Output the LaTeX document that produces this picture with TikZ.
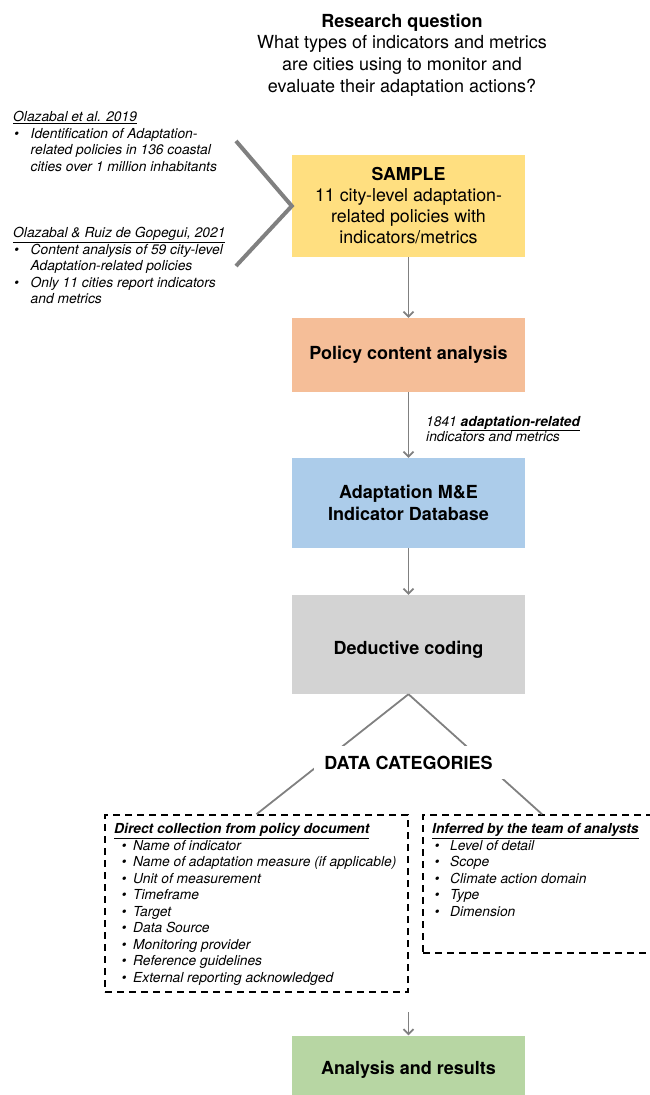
\documentclass[tikz,border=0pt]{standalone}
\usepackage{fontspec}
\setmainfont{TeX Gyre Heros}
\usetikzlibrary{arrows.meta}
\definecolor{cyellow}{HTML}{FFDF80}
\definecolor{csalmon}{HTML}{F5BE98}
\definecolor{cblue}{HTML}{ACCCEA}
\definecolor{cgrey}{HTML}{D3D3D3}
\definecolor{cgreen}{HTML}{B7D6A3}
\definecolor{cline}{HTML}{808080}
\newcommand{\fs}[2]{\fontsize{#1}{#2}\selectfont}
\newcommand{\B}[2]{\makebox[#2][l]{\hspace*{#1}\textbullet}}
\newcommand{\dn}[2]{\raisebox{-#1}[\height][\depth]{#2}}
\begin{document}
\begin{tikzpicture}[x=1pt,y=-1pt,
  box/.style={rectangle, inner sep=0pt, minimum width=233pt, align=center, font=\fs{18}{22.5}\bfseries},
  flow/.style={draw=cline, line width=1.8pt, -{Straight Barb[length=5pt,width=10pt,line width=1.8pt]}},
  tree/.style={draw=cline, line width=1.8pt},
  dbox/.style={rectangle, draw=black, line width=1.6pt, dash pattern=on 7pt off 5pt, inner sep=0pt},
  txt/.style={anchor=north west, inner sep=0pt, font=\fs{13.8}{16.5}\itshape}]
\useasboundingbox (0,0) rectangle (649,1095);

% title
\node[anchor=north, inner sep=0pt, font=\fs{18}{21.7}] (title) at (402,11.8)
  {\begin{tabular}{@{}c@{}}\textbf{Research question}\\What types of indicators and metrics\\are cities using to monitor and\\evaluate their adaptation actions?\end{tabular}};

% boxes
\node[box, fill=cyellow, minimum height=102pt, font=\fs{17.8}{21}] (sample) at (408.5,206)
  {\textbf{SAMPLE}\\11 city-level adaptation-\\related policies with\\indicators/metrics};
\node[box, fill=csalmon, minimum height=74pt] (policy) at (408.5,355) {Policy content analysis};
\node[box, fill=cblue, minimum height=90pt] (adb) at (408.5,503) {Adaptation M\&E\\Indicator Database};
\node[box, fill=cgrey, minimum height=99pt] (dc) at (408.5,644.5) {\dn{5pt}{Deductive coding}};
\node[box, fill=cgreen, minimum height=60pt] (res) at (408.5,1065.5) {\dn{4pt}{Analysis and results}};

% references on the left
\node[txt] (ref1) at (13,110)
  {\begin{tabular}{@{}l@{}}\underline{Olazabal et al. 2019}\\
   \B{1pt}{17.5pt}Identification of Adaptation-\\
   \hspace*{17.5pt}related policies in 136 coastal\\
   \hspace*{17.5pt}cities over 1 million inhabitants\end{tabular}};
\node[txt] (ref2) at (13,226)
  {\begin{tabular}{@{}l@{}}\underline{Olazabal \& Ruiz de Gopegui, 2021}\\
   \B{1pt}{17.5pt}Content analysis of 59 city-level\\
   \hspace*{17.5pt}Adaptation-related policies\\
   \B{1pt}{17.5pt}Only 11 cities report indicators\\
   \hspace*{17.5pt}and metrics\end{tabular}};

% chevron
\coordinate (ch1) at (236,141);
\coordinate (ch3) at (236,266);
\draw[draw=cline, line width=4pt] (ch1) -- (sample.west) -- (ch3);

% arrows
\draw[flow] (sample.south) -- (policy.north);
\draw[flow] (policy.south) -- (adb.north);
\draw[flow] (adb.south) -- (dc.north);

\node[txt, font=\fs{13.8}{15.5}\itshape] (lbl) at (426,415)
  {\begin{tabular}{@{}l@{}}1841 \underline{\textbf{adaptation-related}}\\indicators and metrics\end{tabular}};

% dashed boxes
\node[dbox, minimum width=303pt, minimum height=177pt] (dleft) at (256.5,903.5) {};
\node[dbox, minimum width=238pt, minimum height=138pt] (dright) at (542,884) {};

\draw[tree] (dc.south) -- (dleft.north);
\draw[tree] (dc.south) -- (dright.north);
\node[fill=white, inner sep=0pt, minimum width=190pt, minimum height=33pt, font=\fs{18}{21}\bfseries] (cat) at (408.5,762.5) {DATA CATEGORIES};

\node[txt] (dlt) at (114,822)
  {\begin{tabular}{@{}l@{}}\underline{\textbf{Direct collection from policy document}}\\
   \B{7.5pt}{19pt}Name of indicator\\
   \B{7.5pt}{19pt}Name of adaptation measure (if applicable)\\
   \B{7.5pt}{19pt}Unit of measurement\\
   \B{7.5pt}{19pt}Timeframe\\
   \B{7.5pt}{19pt}Target\\
   \B{7.5pt}{19pt}Data Source\\
   \B{7.5pt}{19pt}Monitoring provider\\
   \B{7.5pt}{19pt}Reference guidelines\\
   \B{7.5pt}{19pt}External reporting acknowledged\end{tabular}};
\node[txt] (drt) at (432,822)
  {\begin{tabular}{@{}l@{}}\underline{\textbf{Inferred by the team of analysts}}\\
   \B{2.5pt}{18pt}Level of detail\\
   \B{2.5pt}{18pt}Scope\\
   \B{2.5pt}{18pt}Climate action domain\\
   \B{2.5pt}{18pt}Type\\
   \B{2.5pt}{18pt}Dimension\end{tabular}};

\coordinate (ra) at (408.5,1012);
\draw[flow] (ra) -- (res.north);
\end{tikzpicture}
\end{document}
